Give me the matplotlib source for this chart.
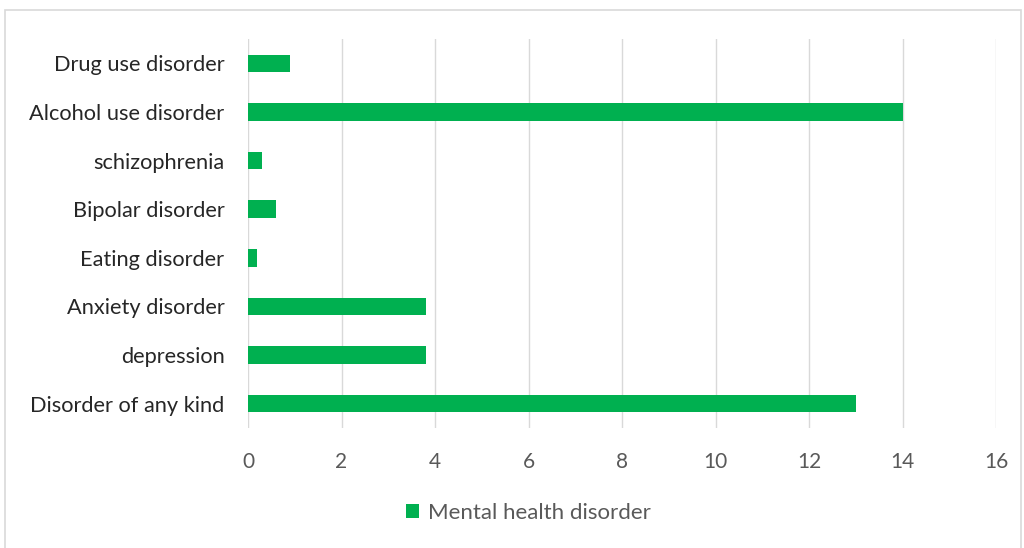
import matplotlib.pyplot as plt
from matplotlib.patches import Rectangle

# Prevalence by disorder type
categories = ['Disorder of any kind', 'depression', 'Anxiety disorder', 'Eating disorder',
              'Bipolar disorder', 'schizophrenia', 'Alcohol use disorder', 'Drug use disorder']
values = [13, 3.8, 3.8, 0.2, 0.6, 0.3, 14, 0.9]
x_ticks = [0, 2, 4, 6, 8, 10, 12, 14, 16]
series_name = 'Mental health disorder'

plt.rcParams['font.family'] = ['Lato', 'DejaVu Sans']

fig = plt.figure(figsize=(10.24, 5.48), dpi=100)
ax = fig.add_axes([0.2422, 0.219, 0.7305, 0.7098])

# outer chart frame
fig.patches.append(Rectangle((5 / 1024, -0.01), 1016 / 1024, 1 - 10 / 548 + 0.01,
                             transform=fig.transFigure, fill=False,
                             edgecolor='#d9d9d9', linewidth=1.2))

ax.barh(range(len(categories)), values, height=0.36, color='#00b050', zorder=3,
        label=series_name)

ax.set_xlim(0, 16)
ax.set_ylim(-0.5, len(categories) - 0.5)
ax.set_xticks(x_ticks)
ax.set_xticklabels([str(t) for t in x_ticks], fontsize=15, color='#595959')
ax.set_yticks(range(len(categories)))
ax.set_yticklabels(categories, fontsize=15.7, color='#262626')
ax.tick_params(axis='both', length=0)
ax.tick_params(axis='x', pad=17)
ax.tick_params(axis='y', pad=17)

ax.grid(True, axis='x', color='#d9d9d9', linewidth=1, zorder=0)
for s in ax.spines.values():
    s.set_visible(False)

fig.legend(*ax.get_legend_handles_labels(), loc='center', bbox_to_anchor=(0.516, 1 - 513 / 548),
           frameon=False, fontsize=16, handlelength=0.55, handleheight=0.55,
           handletextpad=0.4, labelcolor='#595959')

fig.savefig('out.png', dpi=100, facecolor='white')
